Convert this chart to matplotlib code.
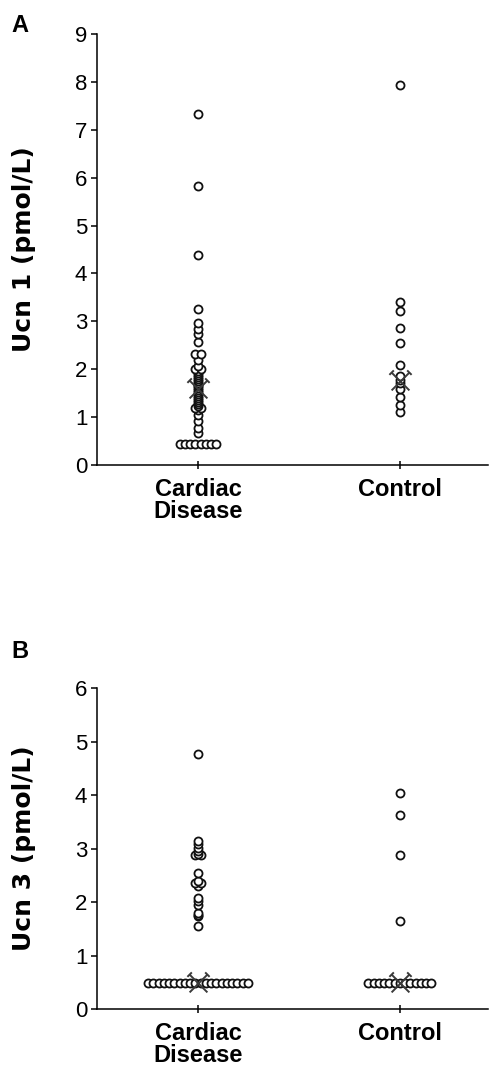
"""Ucn 1 / Ucn 3 dot plots, cardiac disease vs control (panels A and B)."""
import matplotlib
matplotlib.use('Agg')
import matplotlib.pyplot as plt
from matplotlib.path import Path
from matplotlib import font_manager
import numpy as np

plt.rcParams.update({
    'font.family': ['Liberation Sans', 'DejaVu Sans'],
    'axes.linewidth': 1.1,
})

DARK = '#111111'
XCOL = '#3a3a3a'

installed = {f.name for f in font_manager.fontManager.ttflist}
TICKFONT = 'Liberation Sans Narrow' if 'Liberation Sans Narrow' in installed else 'Liberation Sans'

groups = ['Cardiac\nDisease', 'Control']

# panel A: Ucn 1 (pmol/L)
ucn1_cardiac = [7.33, 5.82, 4.38, 3.26, 2.96, 2.85, 2.73, 2.56, 2.31, 2.31, 2.20,
                2.06, 2.00, 2.00, 1.96, 1.92, 1.88, 1.84, 1.80, 1.76, 1.72, 1.68,
                1.64, 1.60, 1.56, 1.52, 1.48, 1.44, 1.40, 1.36, 1.32, 1.28, 1.24,
                1.20, 1.20, 1.15, 1.05, 0.91, 0.77, 0.67] + [0.44] * 8
ucn1_control = [7.93, 3.40, 3.21, 2.87, 2.54, 2.08, 1.85, 1.78, 1.72, 1.59,
                1.43, 1.26, 1.10]
ucn1_median = [1.59, 1.75]

# panel B: Ucn 3 (pmol/L)
ucn3_cardiac = [4.77, 3.15, 3.08, 3.01, 2.96, 2.90, 2.88, 2.88, 2.55, 2.40,
                2.36, 2.36, 2.30, 2.07, 2.02, 1.94, 1.80, 1.76, 1.73, 1.56] + [0.49] * 20
ucn3_control = [4.03, 3.63, 2.87, 1.65] + [0.49] * 13
ucn3_median = [0.49, 0.49]

# X marker with little caps on the upper arm ends
c = 0.25
verts = [(-1, -1), (1, 1), (-1, 1), (1, -1),
         (1 - c, 1 + c), (1 + c, 1 - c), (-1 + c, 1 + c), (-1 - c, 1 - c)]
codes = [Path.MOVETO, Path.LINETO] * 4
XMARK = Path(verts, codes)


def dot_column(ax, xc, vals, step=0.026):
    vals = np.asarray(vals)
    for v in np.unique(vals):
        n = int((vals == v).sum())
        xs = xc + (np.arange(n) - (n - 1) / 2) * step
        ax.plot(xs, [v] * n, 'o', ms=5.8, mfc='white', mec=DARK, mew=1.3,
                ls='none', zorder=3)


def panel(ax, cardiac, control, med, ymax, ylabel, letter, ytxt):
    dot_column(ax, 1, cardiac)
    dot_column(ax, 2, control)
    ax.plot([1, 2], med, ls='none', marker=XMARK, ms=16, mfc='none',
            mec=XCOL, mew=1.4, zorder=4)
    ax.set_xlim(0.5, 2.436)
    ax.set_ylim(0, ymax)
    ax.set_yticks(range(ymax + 1))
    ax.set_xticks([1, 2])
    ax.set_xticklabels(groups, fontsize=17, fontweight='bold', linespacing=0.95)
    for lab in ax.get_yticklabels():
        lab.set_family([TICKFONT, 'DejaVu Sans'])
        lab.set_fontsize(16)
    ax.tick_params(axis='y', direction='out', length=4, width=1.1, pad=3)
    ax.tick_params(axis='x', direction='inout', length=6, width=1.1, pad=6)
    for s in ['top', 'right']:
        ax.spines[s].set_visible(False)
    ax.set_ylabel(ylabel, fontsize=18, fontweight='bold', family='DejaVu Sans')
    ax.yaxis.set_label_coords(-0.155, 0.5)
    fig.text(0.024, ytxt, letter, fontsize=17, fontweight='bold', va='center')


fig = plt.figure(figsize=(4.9, 10.73), dpi=100)
axA = fig.add_axes([0.198, 0.5666, 0.798, 0.4017])
axB = fig.add_axes([0.198, 0.0596, 0.798, 0.2992])

panel(axA, ucn1_cardiac, ucn1_control, ucn1_median, 9, 'Ucn 1 (pmol/L)', 'A', 1 - 25 / 1073)
panel(axB, ucn3_cardiac, ucn3_control, ucn3_median, 6, 'Ucn 3 (pmol/L)', 'B', 1 - 652 / 1073)

fig.savefig('out.png', dpi=100)
plt.close()
